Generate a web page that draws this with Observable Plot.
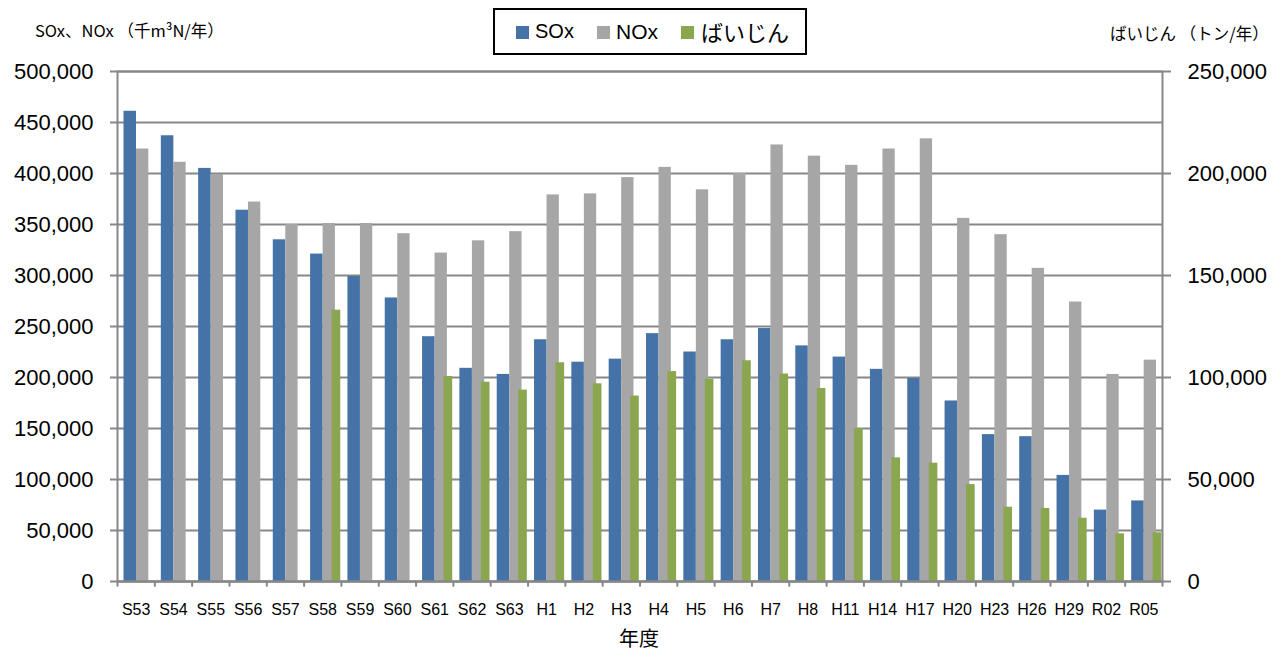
<!DOCTYPE html>
<html>
<head>
<meta charset="utf-8">
<script src="https://cdn.jsdelivr.net/npm/d3@7"></script>
<script src="https://cdn.jsdelivr.net/npm/@observablehq/plot@0.6"></script>
<style>
  html, body { margin: 0; padding: 0; background: #fff; }
  #wrap { position: relative; width: 1281px; height: 652px; overflow: hidden; font-family: "Liberation Sans", "Noto Sans CJK JP", sans-serif; }
  #chart { position: absolute; left: 0; top: 0; }
  .ov { position: absolute; white-space: nowrap; color: #000; }
  #legend { position: absolute; left: 493px; top: 8px; width: 310px; height: 43px; border: 2px solid #000; box-sizing: content-box; }
  .sw { position: absolute; width: 13px; height: 13px; top: 16px; }
  .lt { position: absolute; top: 0; height: 43px; line-height: 43px; }
</style>
</head>
<body>
<div id="wrap">
  <div id="chart"></div>
  <div class="ov" style="left:35px; top:20px; font-size:16.5px; line-height:20px; font-family:'Noto Sans CJK JP', sans-serif;">SOx、NOx （千m³N/年）</div>
  <div class="ov" style="left:1110px; top:23px; font-size:16.5px; line-height:20px; font-family:'Noto Sans CJK JP', sans-serif;">ばいじん （トン/年）</div>
  <div class="ov" style="left:619px; top:627px; font-size:20px; line-height:22px; font-family:'Noto Sans CJK JP', sans-serif;">年度</div>
  <div id="legend">
    <div class="sw" style="left:21px; background:#4573a7;"></div>
    <div class="lt" style="left:40px; font-size:20px;">SOx</div>
    <div class="sw" style="left:102px; background:#a6a6a6;"></div>
    <div class="lt" style="left:121px; font-size:21px;">NOx</div>
    <div class="sw" style="left:186px; background:#8aa64f;"></div>
    <div class="lt" style="left:206px; font-size:22px; font-family:'Noto Sans CJK JP', sans-serif;">ばいじん</div>
  </div>
</div>
<script>
const years = ["S53","S54","S55","S56","S57","S58","S59","S60","S61","S62","S63","H1","H2","H3","H4","H5","H6","H7","H8","H11","H14","H17","H20","H23","H26","H29","R02","R05"];
const sox  = [461000,437000,405000,364000,335000,321000,299000,278000,240000,209000,203000,237000,215000,218000,243000,225000,237000,248000,231000,220000,208000,199000,177000,144000,142000,104000,70000,79000];
const nox  = [424000,411000,399000,372000,350000,351000,351000,341000,322000,334000,343000,379000,380000,396000,406000,384000,400000,428000,417000,408000,424000,434000,356000,340000,307000,274000,203000,217000];
const dust = [null,null,null,null,null,133000,null,null,100500,97700,93800,107200,96900,90900,102900,99200,108200,101700,94600,75000,60600,58000,47500,36400,35800,31000,23400,23900];
const leftTicks  = [0,50000,100000,150000,200000,250000,300000,350000,400000,450000,500000];
const rightTicks = [0,50000,100000,150000,200000,250000];

const data = years.map((y, i) => ({year: y, sox: sox[i], nox: nox[i], dust: dust[i]}));
const dustData = data.filter(d => d.dust != null);

const grid = "#878787";
const fmt = d3.format(",");
const bw = (1281 - 117 - 119) / years.length;

const chart = Plot.plot({
  width: 1281,
  height: 652,
  marginLeft: 117,
  marginRight: 119,
  marginTop: 71,
  marginBottom: 71,
  style: {fontFamily: "'Liberation Sans', sans-serif", background: "#fff"},
  x: {domain: years, padding: 0, round: false, axis: null},
  y: {domain: [0, 500000], axis: null},
  marks: [
    Plot.gridY(leftTicks, {stroke: grid, strokeOpacity: 1, strokeWidth: 2}),
    Plot.barY(data, {x: "year", y: "sox", fill: "#4573a7", insetLeft: 6.5, insetRight: 18.3}),
    Plot.barY(data, {x: "year", y: "nox", fill: "#a6a6a6", insetLeft: 19, insetRight: 6}),
    Plot.barY(dustData, {x: "year", y: d => d.dust * 2, fill: "#8aa64f", insetLeft: 28, insetRight: 0.7}),
    Plot.ruleY([0], {stroke: grid, strokeWidth: 2}),
    Plot.frame({stroke: grid, strokeWidth: 2}),
    Plot.axisY(leftTicks, {anchor: "left", tickSize: 7, tickPadding: 17, tickFormat: fmt, fontSize: 22, stroke: grid, strokeWidth: 2, fill: "#000", label: null}),
    Plot.axisY(rightTicks.map(v => v * 2), {anchor: "right", tickSize: 8, tickPadding: 17, tickFormat: d => fmt(d / 2), fontSize: 22, stroke: grid, strokeWidth: 2, fill: "#000", label: null}),
    Plot.ruleX(years, {x: d => d, y1: 0, y2: -5500, dx: -bw / 2, stroke: grid, strokeWidth: 2}),
    Plot.ruleX([years[years.length - 1]], {x: d => d, y1: 0, y2: -5500, dx: bw / 2, stroke: grid, strokeWidth: 2}),
    Plot.axisX({anchor: "bottom", tickSize: 0, tickPadding: 22, fontSize: 16, fill: "#000", label: null})
  ]
});
document.getElementById("chart").appendChild(chart);
</script>
</body>
</html>
